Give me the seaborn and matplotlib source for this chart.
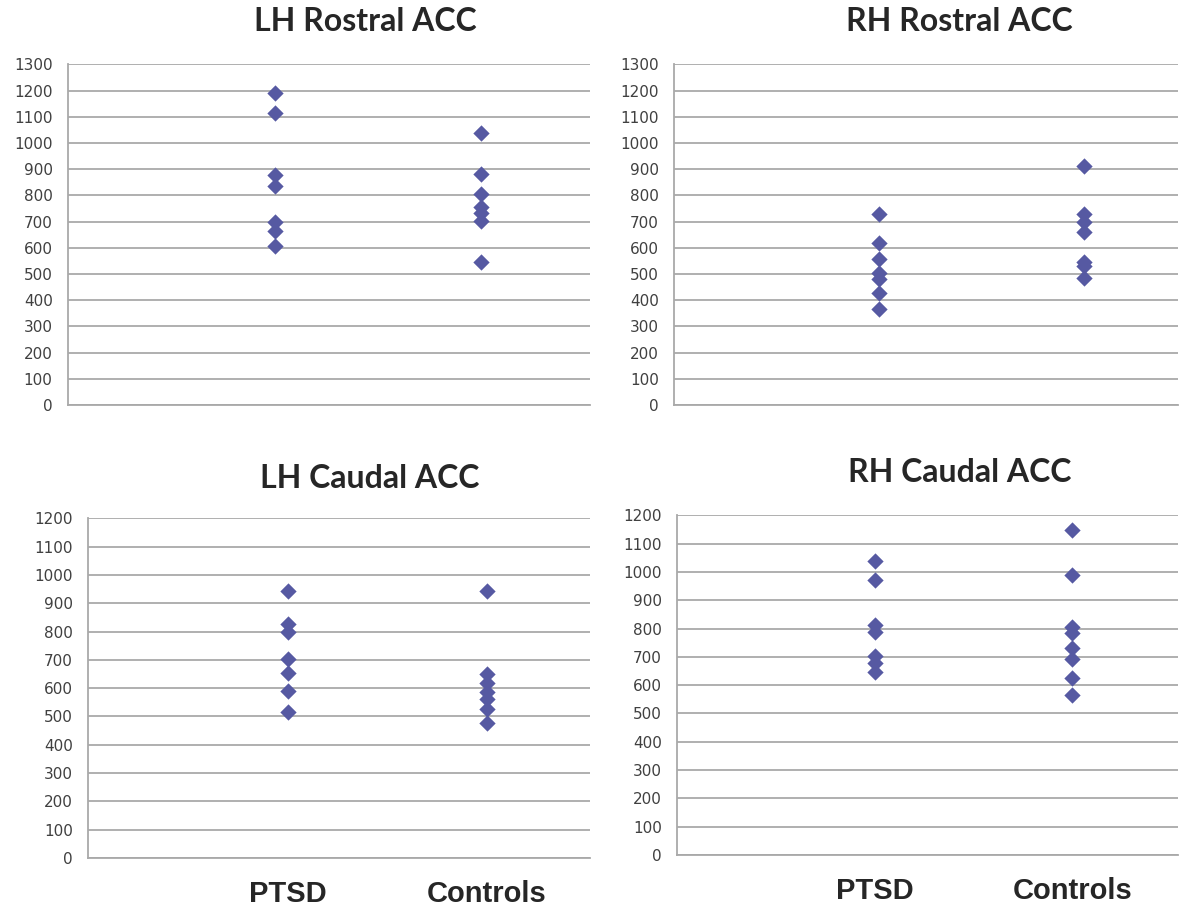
import matplotlib
matplotlib.use("Agg")
import matplotlib.pyplot as plt
import pandas as pd
import seaborn as sns

# group names
groups = ["PTSD", "Controls"]

# values
lh_rostral_ptsd = [1192, 1116, 877, 836, 699, 663, 607]
lh_rostral_ctrl = [1037, 883, 807, 756, 731, 703, 544]

rh_rostral_ptsd = [729, 620, 557, 505, 480, 429, 366]
rh_rostral_ctrl = [913, 729, 698, 662, 545, 531, 484]

lh_caudal_ptsd = [942, 828, 800, 702, 653, 591, 516]
lh_caudal_ctrl = [942, 651, 618, 588, 561, 526, 476]

rh_caudal_ptsd = [1038, 973, 812, 789, 703, 677, 645]
rh_caudal_ctrl = [1149, 989, 807, 785, 730, 693, 625, 566]

titles = ["LH Rostral ACC", "RH Rostral ACC", "LH Caudal ACC", "RH Caudal ACC"]
y_max = [1300, 1300, 1200, 1200]

sns.set_style("white")
plt.rcParams["font.family"] = ["DejaVu Sans"]

fig = plt.figure(figsize=(11.82, 9.09), dpi=100)

# axes boxes in figure fraction: left, bottom, width, height
boxes = [
    [0.0575, 0.5545, 0.4416, 0.3751],
    [0.5702, 0.5545, 0.4264, 0.3751],
    [0.0745, 0.0561, 0.4247, 0.3740],
    [0.5728, 0.0594, 0.4239, 0.3740],
]
xlims = [(-1.005, 1.53), (-1.0, 1.46), (-1.005, 1.52), (-0.995, 1.535)]
title_pos = [(0.309, 0.976), (0.812, 0.976), (0.313, 0.474), (0.812, 0.480)]

data = [
    (lh_rostral_ptsd, lh_rostral_ctrl),
    (rh_rostral_ptsd, rh_rostral_ctrl),
    (lh_caudal_ptsd, lh_caudal_ctrl),
    (rh_caudal_ptsd, rh_caudal_ctrl),
]

grid_col = "#a9a9a9"
mark_col = "#5659a2"

for i, (ptsd, ctrl) in enumerate(data):
    ax = fig.add_axes(boxes[i])
    df = pd.DataFrame({
        "group": ["PTSD"] * len(ptsd) + ["Controls"] * len(ctrl),
        "value": ptsd + ctrl,
    })
    sns.stripplot(data=df, x="group", y="value", order=groups, jitter=False,
                  marker="D", size=8.3, color=mark_col, linewidth=0, ax=ax, zorder=3)
    ax.set_xlim(*xlims[i])
    ax.set_ylim(0, y_max[i] * 1.001)
    ax.set_yticks(range(0, y_max[i] + 1, 100))
    ax.yaxis.grid(True, color=grid_col, lw=1.3)
    ax.set_axisbelow(True)
    ax.set_xlabel("")
    ax.set_ylabel("")
    for s in ["top", "right"]:
        ax.spines[s].set_visible(False)
    for s in ["left", "bottom"]:
        ax.spines[s].set_color(grid_col)
        ax.spines[s].set_linewidth(1.3)
    ax.tick_params(axis="y", direction="out", length=6, width=1.2, color=grid_col,
                   labelsize=11, labelcolor="#404040", pad=5)
    ax.set_xticks([-1, 0, 1])
    if i >= 2:
        ax.set_xticklabels(["", "PTSD", "Controls"], fontsize=21, fontweight="bold",
                           family="Liberation Sans")
    else:
        ax.set_xticklabels(["", "", ""])
    ax.tick_params(axis="x", direction="out", length=6, width=1.2, color=grid_col, pad=10)
    fig.text(title_pos[i][0], title_pos[i][1], titles[i], ha="center", va="center",
             fontsize=23, fontweight="bold", family="Lato")

fig.savefig("out.png", dpi=100)
